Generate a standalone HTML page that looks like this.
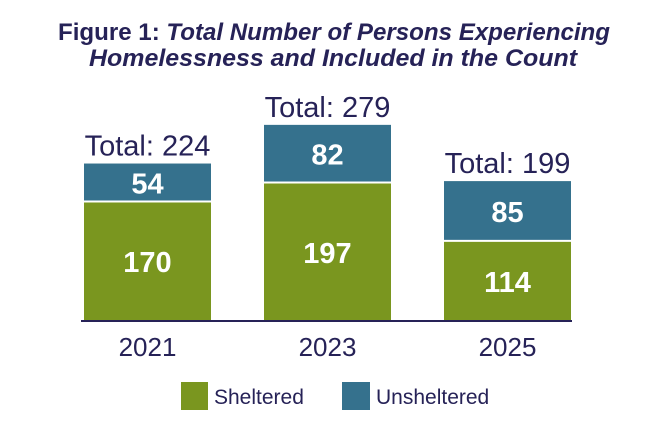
<!DOCTYPE html>
<html><head><meta charset="utf-8"><style>
body{margin:0;background:#fff;width:666px;height:442px;overflow:hidden;font-family:"Liberation Sans",sans-serif}
svg text{font-family:"Liberation Sans",sans-serif}
</style></head><body>
<svg width="666" height="442">
<text x="334" y="40" text-anchor="middle" font-size="24" font-weight="bold" fill="#262257" textLength="552" lengthAdjust="spacingAndGlyphs">Figure 1: <tspan font-style="italic">Total Number of Persons Experiencing</tspan></text>
<text x="333" y="66" text-anchor="middle" font-size="24" font-weight="bold" font-style="italic" fill="#262257" textLength="488" lengthAdjust="spacingAndGlyphs">Homelessness and Included in the Count</text>
<g id="bars"></g>
<line x1="81" y1="321" x2="572" y2="321" stroke="#262257" stroke-width="2"/>
<rect x="181" y="382" width="27" height="28" fill="#7a961f"/>
<text x="214" y="404" font-size="21" fill="#262257">Sheltered</text>
<rect x="342" y="382" width="28" height="28" fill="#35718d"/>
<text x="376" y="404" font-size="21" fill="#262257">Unsheltered</text>
</svg>
<script>
const years=["2021","2023","2025"];
const sheltered=[170,197,114];
const unsheltered=[54,82,85];
const g=document.getElementById('bars');
const NS="http://www.w3.org/2000/svg";
const base=321, scale=0.703, x0=84, step=180, bw=127;
function y(v){return base-v*scale;}
function mk(tag,attrs,txt){const e=document.createElementNS(NS,tag);for(const k in attrs)e.setAttribute(k,attrs[k]);if(txt!=null)e.textContent=txt;g.appendChild(e);return e;}
years.forEach((yr,i)=>{
  const x=x0+i*step, s=sheltered[i], u=unsheltered[i], t=s+u;
  const r1=mk('rect',{x:x,y:y(s)+1,width:bw,height:base-y(s)-1,fill:'#7a961f'});
  
  
  const r2=mk('rect',{x:x,y:y(t),width:bw,height:y(s)-y(t)-1,fill:'#35718d'});
  
  
  const l1=mk('text',{x:x+bw/2,y:(y(s)+base)/2+11,'text-anchor':'middle','font-size':29,'font-weight':'bold',fill:'#fff'},s);
  
  
  const l2=mk('text',{x:x+bw/2,y:(y(s)+y(t))/2+11,'text-anchor':'middle','font-size':29,'font-weight':'bold',fill:'#fff'},u);
  
  
  const l3=mk('text',{x:x+bw/2,y:y(t)-8,'text-anchor':'middle','font-size':29,fill:'#262257'},'Total: '+t);
  
  
  const l4=mk('text',{x:x+bw/2,y:356,'text-anchor':'middle','font-size':26,fill:'#262257'},yr);
  
  
});
</script>
</body></html>
